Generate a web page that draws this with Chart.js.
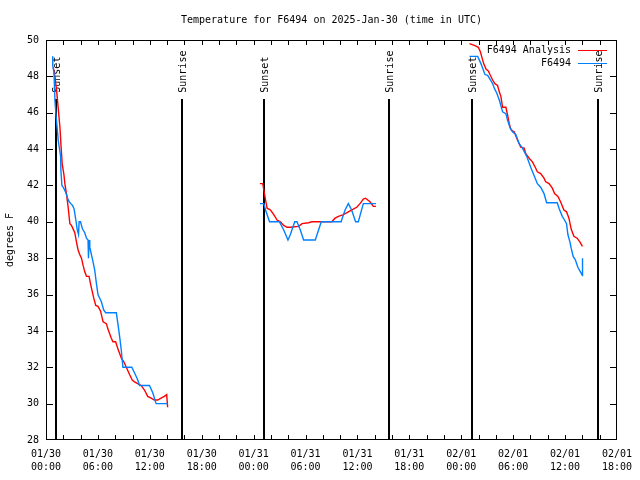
<!DOCTYPE html>
<html>
<head>
<meta charset="utf-8">
<script src="https://cdn.jsdelivr.net/npm/chart.js@4"></script>
<style>
  html, body { margin:0; padding:0; background:#fff; }
  #wrap { width:640px; height:480px; }
</style>
</head>
<body>
<div id="wrap"><canvas id="temp-chart" width="640" height="480"></canvas></div>
<script>
'use strict';

// hours since 01/30 00:00 UTC; null temp breaks the line between nights
const obsHours = [0.77,0.78,0.92,1.03,1.15,1.41,1.69,1.72,1.84,1.99,2.1,2.3,2.5,2.68,2.87,3.07,3.25,3.45,3.6,3.76,3.83,3.99,4.22,4.48,4.68,4.86,4.91,4.98,5.06,5.25,5.44,5.63,5.83,6.01,6.21,6.4,6.67,6.9,8.13,8.31,8.51,8.7,8.89,9.92,10.23,10.61,10.81,11.96,12.34,12.73,14.06,
  20,
  24.72,25.18,25.38,25.84,26.99,27.48,27.97,28.25,28.75,29.01,29.4,29.78,31.13,31.82,34.11,34.57,34.95,35.33,35.79,36.1,36.68,38.14,
  44,
  48.95,49.9,50.28,50.48,50.74,51.05,51.32,51.63,51.82,52.09,52.4,52.58,52.78,53.16,53.35,53.66,53.92,54.3,54.7,55.08,55.57,56.03,56.42,56.8,57.18,57.57,57.87,59.1,59.3,59.68,59.94,60.17,60.33,60.56,60.71,60.94,61.2,61.48,61.78,62.01,62.02];
const obsTemps = [49.1,48.6,48.2,46.7,45.9,44.5,43.6,42.85,42.0,41.9,41.8,41.6,41.3,41.1,41.0,40.9,40.7,40.1,39.6,39.3,40.0,40.0,39.6,39.4,39.1,39.0,38.0,39.0,38.6,38.2,37.8,37.35,36.6,36.0,35.8,35.6,35.15,35.0,35.0,34.4,33.7,32.95,32.0,32.0,31.7,31.3,31.0,31.0,30.6,30.0,30.0,
  null,
  41.0,41.0,40.65,40.0,40.0,39.55,39.0,39.3,40.0,40.0,39.55,39.0,39.0,40.0,40.0,40.65,41.0,40.65,40.0,40.0,41.0,41.0,
  null,
  49.1,49.1,48.7,48.45,48.1,48.05,47.85,47.6,47.35,47.1,46.7,46.4,46.05,45.95,45.6,45.15,44.95,44.8,44.3,44.05,43.6,43.0,42.55,42.1,41.9,41.55,41.05,41.05,40.75,40.3,40.1,39.9,39.3,38.9,38.55,38.1,37.9,37.5,37.25,37.05,38.0];

const anaHours = [0.84,1.03,1.23,1.42,1.61,1.72,1.87,2.07,2.18,2.38,2.56,2.76,2.95,3.14,3.33,3.52,3.71,3.9,4.1,4.29,4.48,4.68,4.98,5.14,5.33,5.52,5.75,6.01,6.3,6.6,6.98,7.16,7.55,7.74,8.05,8.32,8.71,9.0,9.28,9.66,9.97,10.24,10.6,11.0,11.38,11.76,12.15,12.53,12.91,13.3,13.68,13.95,14.06,
  20,
  24.72,25.06,25.18,25.38,25.56,25.95,26.33,26.71,27.1,27.48,27.86,28.25,29.21,29.59,30.36,30.73,33.03,33.42,33.8,34.38,34.95,35.53,35.91,36.3,36.68,36.94,37.45,37.83,38.14,
  44,
  48.95,49.52,49.98,50.21,50.36,50.59,50.86,51.13,51.32,51.63,51.89,52.2,52.4,52.58,52.78,53.16,53.35,53.55,53.73,53.92,54.12,54.5,54.88,55.27,55.46,55.85,56.23,56.61,56.8,57.18,57.57,57.76,58.15,58.53,58.79,59.18,59.48,59.87,60.17,60.45,60.71,61.02,61.4,61.71,62.01];
const anaTemps = [48.5,48.0,47.2,46.2,45.2,44.3,43.2,42.6,42.1,41.5,40.8,39.9,39.8,39.6,39.4,38.9,38.45,38.2,38.0,37.6,37.25,37.0,37.0,36.6,36.2,35.8,35.4,35.35,35.1,34.5,34.4,34.1,33.6,33.4,33.4,33.0,32.5,32.3,32.0,31.6,31.3,31.2,31.1,31.0,30.75,30.4,30.3,30.2,30.2,30.3,30.4,30.5,29.8,
  null,
  42.1,42.1,41.75,41.2,40.75,40.65,40.4,40.1,40.0,39.8,39.7,39.7,39.75,39.9,39.95,40.0,40.0,40.2,40.3,40.4,40.55,40.7,40.8,41.0,41.25,41.3,41.1,40.85,40.85,
  null,
  49.8,49.7,49.6,49.35,49.1,48.7,48.4,48.3,48.1,47.8,47.6,47.5,47.15,46.9,46.3,46.3,45.9,45.4,45.1,45.0,44.95,44.5,44.1,44.05,43.75,43.5,43.3,42.95,42.75,42.65,42.4,42.2,42.1,41.85,41.55,41.4,41.1,40.65,40.55,40.2,39.6,39.2,39.1,38.9,38.65];

const sunHours = [1.15, 15.72, 25.22, 39.67, 49.25, 63.78];
const sunLabels = ['Sunset', 'Sunrise', 'Sunset', 'Sunrise', 'Sunset', 'Sunrise'];
const dayLabels = ['01/30', '01/31', '02/01'];
const chartTitle = 'Temperature for F6494 on 2025-Jan-30 (time in UTC)';

const FONT = '"DejaVu Sans Mono", "Liberation Mono", monospace';
const toXY = (hs, ts) => hs.map((h, i) => ({ x: h, y: ts[i] }));

// ── gnuplot-ish frame, inward ticks, sun markers, title and legend ──────────
const gnuFrame = {
  id: 'gnuFrame',
  beforeDatasetsDraw(chart) {
    const { ctx, chartArea: a, scales: { x, y } } = chart;
    ctx.save();
    ctx.fillStyle = '#000';
    ctx.font = '10px ' + FONT;
    sunHours.forEach((h, i) => {
      const px = Math.round(x.getPixelForValue(h));
      const top = Math.round(y.getPixelForValue(46.75));
      ctx.fillRect(px - 1, top, 2, a.bottom - top);
      ctx.save();
      ctx.translate(px + 1, y.getPixelForValue(47.1));
      ctx.rotate(-Math.PI / 2);
      ctx.textAlign = 'left'; ctx.textBaseline = 'middle';
      ctx.fillText(sunLabels[i], 0, 0);
      ctx.restore();
    });
    ctx.restore();
  },
  afterDraw(chart) {
    const { ctx, chartArea: a, scales: { x, y } } = chart;
    const L = Math.round(a.left), R = Math.round(a.right), T = Math.round(a.top), B = Math.round(a.bottom);
    ctx.save();
    ctx.fillStyle = '#000';
    ctx.fillRect(L, T, R - L, 1);
    ctx.fillRect(L, B - 1, R - L, 1);
    ctx.fillRect(L, T, 1, B - T);
    ctx.fillRect(R - 1, T, 1, B - T);
    for (const t of x.ticks) {
      const px = Math.min(Math.round(x.getPixelForValue(t.value)), R - 1);
      ctx.fillRect(px, B - 5, 1, 4);
      ctx.fillRect(px, T + 1, 1, 4);
    }
    for (const t of y.ticks) {
      const py = Math.min(Math.round(y.getPixelForValue(t.value)), B - 1);
      ctx.fillRect(L + 1, py, 6, 1);
      ctx.fillRect(R - 7, py, 6, 1);
    }

    ctx.font = '10px ' + FONT;
    ctx.textBaseline = 'middle';
    ctx.textAlign = 'center';
    ctx.fillText(chartTitle, (a.left + a.right) / 2, 20);

    // legend, text then sample like gnuplot
    ctx.textAlign = 'right';
    const rows = [chart.data.datasets[1], chart.data.datasets[0]];
    rows.forEach((ds, i) => {
      const ly = T + 10 + i * 13;
      ctx.fillStyle = '#000';
      ctx.fillText(ds.label, R - 46, ly);
      ctx.fillStyle = ds.borderColor;
      ctx.fillRect(R - 39, ly, 29, 1);
    });
    ctx.restore();
  }
};

new Chart(document.getElementById('temp-chart'), {
  type: 'line',
  data: {
    datasets: [
      { label: 'F6494', data: toXY(obsHours, obsTemps), borderColor: 'rgb(0,128,255)', borderWidth: 1.4, pointRadius: 0, spanGaps: false, order: 1 },
      { label: 'F6494 Analysis', data: toXY(anaHours, anaTemps), borderColor: '#ff0000', borderWidth: 1.4, pointRadius: 0, spanGaps: false, order: 2 }
    ]
  },
  options: {
    responsive: false, animation: false,
    layout: { padding: { left: 0, right: 20, top: 40, bottom: 0 } },
    plugins: {
      legend: { display: false },
      tooltip: { enabled: false },
      title: { display: false }
    },
    scales: {
      x: {
        type: 'linear', min: 0, max: 66,
        grid: { display: false, drawTicks: false }, border: { display: false },
        afterFit: s => { s.height = 40; },
        ticks: {
          stepSize: 2, autoSkip: false, maxRotation: 0, padding: 8, color: '#000',
          font: { family: FONT, size: 10, lineHeight: 1.3 },
          callback: v => {
            if (v % 6 !== 0) return '';
            const hh = String(v % 24).padStart(2, '0');
            return [dayLabels[Math.floor(v / 24)], hh + ':00'];
          }
        }
      },
      y: {
        min: 28, max: 50,
        grid: { display: false, drawTicks: false }, border: { display: false },
        afterFit: s => { s.width = 46; },
        title: { display: true, text: 'degrees F', color: '#000', font: { family: FONT, size: 10 }, padding: { top: 4, bottom: 0 } },
        ticks: { stepSize: 2, padding: 7, color: '#000', font: { family: FONT, size: 10 } }
      }
    }
  },
  plugins: [gnuFrame]
});
</script>
</body>
</html>
